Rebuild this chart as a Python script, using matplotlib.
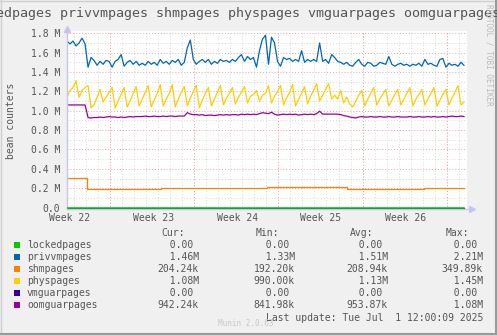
import numpy as np
import matplotlib
matplotlib.use("Agg")
import matplotlib.pyplot as plt
from matplotlib.patches import Rectangle
from matplotlib.lines import Line2D
from matplotlib.ticker import MultipleLocator, FuncFormatter

plt.rcParams["font.family"] = ["DejaVu Sans Mono"]

# ---- data (millions of pages), one sample every 6 hours ----
privvmpages = [
    1.72, 1.69, 1.72, 1.67, 1.70, 1.75, 1.69, 1.45, 1.55, 1.52,
    1.47, 1.51, 1.48, 1.52, 1.51, 1.45, 1.51, 1.53, 1.58, 1.46,
    1.50, 1.52, 1.48, 1.51, 1.47, 1.49, 1.47, 1.51, 1.48, 1.50,
    1.47, 1.53, 1.49, 1.51, 1.48, 1.52, 1.50, 1.53, 1.47, 1.50,
    1.65, 1.73, 1.53, 1.48, 1.51, 1.53, 1.50, 1.53, 1.48, 1.51,
    1.49, 1.53, 1.51, 1.52, 1.50, 1.53, 1.51, 1.55, 1.58, 1.51,
    1.56, 1.53, 1.55, 1.45, 1.62, 1.74, 1.78, 1.48, 1.76, 1.70,
    1.51, 1.46, 1.55, 1.53, 1.54, 1.51, 1.53, 1.51, 1.62, 1.50,
    1.53, 1.51, 1.53, 1.51, 1.70, 1.51, 1.53, 1.49, 1.58, 1.55,
    1.51, 1.50, 1.48, 1.50, 1.47, 1.46, 1.50, 1.53, 1.48, 1.46,
    1.50, 1.49, 1.46, 1.47, 1.50, 1.49, 1.48, 1.56, 1.48, 1.46,
    1.48, 1.49, 1.47, 1.48, 1.46, 1.48, 1.47, 1.49, 1.46, 1.53,
    1.48, 1.49, 1.47, 1.46, 1.53, 1.54, 1.45, 1.49, 1.47, 1.48,
    1.46, 1.50, 1.47,
]
physpages = [
    1.14, 1.21, 1.24, 1.31, 1.14, 1.21, 1.24, 1.26, 1.03, 1.06,
    1.14, 1.22, 1.09, 1.14, 1.19, 1.24, 1.03, 1.10, 1.17, 1.24,
    1.04, 1.10, 1.18, 1.25, 1.05, 1.12, 1.19, 1.26, 1.04, 1.11,
    1.18, 1.27, 1.05, 1.12, 1.18, 1.27, 1.04, 1.12, 1.19, 1.25,
    1.05, 1.13, 1.20, 1.26, 1.03, 1.11, 1.18, 1.24, 1.05, 1.12,
    1.19, 1.26, 1.06, 1.13, 1.18, 1.24, 1.07, 1.14, 1.19, 1.25,
    1.08, 1.15, 1.17, 1.21, 1.10, 1.16, 1.18, 1.26, 1.08, 1.15,
    1.20, 1.26, 1.06, 1.13, 1.19, 1.27, 1.05, 1.12, 1.18, 1.25,
    1.07, 1.15, 1.21, 1.28, 1.10, 1.16, 1.22, 1.28, 1.12, 1.16,
    1.12, 1.21, 1.08, 1.14, 1.07, 1.04, 1.10, 1.16, 1.21, 1.05,
    1.12, 1.18, 1.24, 1.06, 1.12, 1.17, 1.22, 1.05, 1.11, 1.17,
    1.22, 1.06, 1.12, 1.18, 1.24, 1.05, 1.12, 1.17, 1.22, 1.06,
    1.12, 1.18, 1.24, 1.05, 1.11, 1.17, 1.22, 1.06, 1.13, 1.19,
    1.26, 1.06, 1.09,
]
oomguarpages = [
    1.06, 1.06, 1.06, 1.06, 1.06, 1.06, 1.06, 0.93, 0.925, 0.93,
    0.93, 0.935, 0.93, 0.935, 0.94, 0.935, 0.935, 0.93, 0.935, 0.93,
    0.935, 0.94, 0.935, 0.94, 0.94, 0.94, 0.945, 0.94, 0.94, 0.945,
    0.94, 0.94, 0.945, 0.94, 0.945, 0.945, 0.94, 0.945, 0.945, 0.945,
    0.98, 0.965, 0.96, 0.96, 0.955, 0.96, 0.95, 0.955, 0.955, 0.95,
    0.955, 0.96, 0.955, 0.96, 0.955, 0.96, 0.96, 0.955, 0.965, 0.96,
    0.965, 0.96, 0.965, 0.96, 0.97, 0.98, 0.975, 0.97, 0.985, 0.965,
    0.955, 0.96, 0.965, 0.96, 0.965, 0.96, 0.965, 0.955, 0.96, 0.965,
    0.96, 0.965, 0.96, 0.97, 0.995, 0.965, 0.965, 0.965, 0.965, 0.965,
    0.965, 0.96, 0.95, 0.945, 0.935, 0.93, 0.925, 0.935, 0.94, 0.935,
    0.935, 0.94, 0.935, 0.935, 0.94, 0.935, 0.935, 0.94, 0.935, 0.935,
    0.94, 0.935, 0.935, 0.935, 0.94, 0.935, 0.935, 0.94, 0.935, 0.935,
    0.94, 0.935, 0.94, 0.935, 0.935, 0.94, 0.935, 0.94, 0.945, 0.94,
    0.94, 0.945, 0.94,
]
# shmpages is a step series: day where each level starts, and the level
shm_days = [0.0, 1.66, 7.8, 16.6, 23.3, 29.7, 33.0]
shm_vals = [0.31, 0.195, 0.205, 0.213, 0.196, 0.204, 0.204]
zero_days = [0.0, 33.0]
lockedpages = [0.0, 0.0]
vmguarpages = [0.0, 0.0]

week_labels = ["Week 22", "Week 23", "Week 24", "Week 25", "Week 26"]
week_label_days = [0.22, 7.22, 14.15, 21.1, 28.15]
week_line_days = [3.57, 10.57, 17.57, 24.57, 31.57]

names = ["lockedpages", "privvmpages", "shmpages", "physpages", "vmguarpages", "oomguarpages"]
colors = ["#00CC00", "#0066B3", "#FF8000", "#FFCC00", "#330099", "#990099"]
cur = ["0.00 ", "1.46M", "204.24k", "1.08M", "0.00 ", "942.24k"]
mins = ["0.00 ", "1.33M", "192.20k", "990.00k", "0.00 ", "841.98k"]
avgs = ["0.00 ", "1.51M", "208.94k", "1.13M", "0.00 ", "953.87k"]
maxs = ["0.00 ", "2.21M", "349.89k", "1.45M", "0.00 ", "1.08M"]

# ---- figure ----
W, H = 497, 335
TXT = "#555555"
fig = plt.figure(figsize=(W / 100, H / 100), dpi=100, facecolor="#F0F0F0")
ax = fig.add_axes([67 / W, 1 - 209 / H, 400 / W, (209 - 30.5) / H])
ax.set_facecolor("white")

step = 0.25
days = np.arange(len(privvmpages)) * step

ax.set_xlim(0, 33.25)
ax.set_ylim(-0.015, 1.829)

# grid
ax.yaxis.set_major_locator(MultipleLocator(0.2))
ax.yaxis.set_minor_locator(MultipleLocator(0.1))
ax.yaxis.grid(True, which="minor", color="#D8D8D8", lw=0.7, ls=(0, (1, 2)), zorder=0)
ax.yaxis.grid(True, which="major", color="#EBA4A4", lw=0.7, ls=(0, (1, 2)), zorder=0)
for d in np.arange(0.57, 33.25, 1.0):
    ax.axvline(d, color="#D8D8D8", lw=0.7, ls=(0, (1, 2)), zorder=0)
for d in week_line_days:
    ax.axvline(d, color="#EBA4A4", lw=0.7, ls=(0, (1, 2)), zorder=0)
ax.set_axisbelow(True)

ax.yaxis.set_major_formatter(FuncFormatter(lambda v, p: "0.0" if abs(v) < 1e-9 else "%.1f M" % v))
ax.tick_params(axis="y", which="both", length=0, pad=5, labelsize=7, labelcolor=TXT)
ax.set_xticks(week_label_days, week_labels)
ax.tick_params(axis="x", length=0, pad=3, labelsize=7, labelcolor=TXT)

# series
lw = 0.9
ax.plot(zero_days, vmguarpages, color=colors[4], lw=lw, zorder=2)
ax.plot(days, oomguarpages, color=colors[5], lw=lw, zorder=2)
ax.plot(days, physpages, color=colors[3], lw=lw, zorder=2)
ax.plot(shm_days, shm_vals, color=colors[2], lw=lw, drawstyle="steps-post", zorder=2)
ax.plot(days, privvmpages, color=colors[1], lw=lw, zorder=2)
ax.plot(zero_days, lockedpages, color=colors[0], lw=1.1, zorder=3)

for s in ["top", "right"]:
    ax.spines[s].set_visible(False)
for s in ["left", "bottom"]:
    ax.spines[s].set_color("#C4C4F0")
    ax.spines[s].set_linewidth(1.0)
ax.plot([0], [1.01], marker="^", ms=4, color="#C4C4F0", transform=ax.transAxes, clip_on=False)
ax.plot([1.012], [0], marker=">", ms=4, color="#C4C4F0", transform=ax.transAxes, clip_on=False)

# title and side texts
fig.text(-36 / W, 1 - 13 / H, " ".join(names), ha="left", va="center", fontsize=9.6, color=TXT)
fig.text(11 / W, 1 - 121 / H, "bean counters", rotation=90, ha="center", va="center",
         fontsize=7, color=TXT)
fig.text(489 / W, 1 - 4 / H, "RRDTOOL / TOBI OETIKER", rotation=270, ha="center", va="top",
         fontsize=5.5, color="#BBBBBB")

# legend table
def fy(y):
    return 1 - y / H

for x, h in zip([185, 279, 373, 469], ["Cur:", "Min:", "Avg:", "Max:"]):
    fig.text(x / W, fy(233), h, ha="right", va="center", fontsize=7, color=TXT)

col_start = [157.7, 253.7, 346.7, 441.7]
for i, name in enumerate(names):
    y = 245 + 12 * i
    fig.patches.append(Rectangle((14 / W, fy(y + 3)), 6 / W, 6 / H, transform=fig.transFigure,
                                 facecolor=colors[i], edgecolor="none"))
    fig.text(27 / W, fy(y), name, ha="left", va="center", fontsize=7, color=TXT)
    for x0, col in zip(col_start, [cur, mins, avgs, maxs]):
        fig.text(x0 / W, fy(y), col[i].rjust(7), ha="left", va="center", fontsize=7, color=TXT)

fig.text(483 / W, fy(318), "Last update: Tue Jul  1 12:00:09 2025", ha="right", va="center",
         fontsize=7, color=TXT)
fig.text(218 / W, fy(324), "Munin 2.0.63", ha="left", va="center", fontsize=5.5, color="#C8C8C8")

# image border
fig.add_artist(Line2D([0.5 / W, 0.5 / W], [0, 1], color="#CFCFCF", lw=1.0, transform=fig.transFigure))
fig.add_artist(Line2D([0, 1], [1 - 0.5 / H, 1 - 0.5 / H], color="#CFCFCF", lw=1.0, transform=fig.transFigure))
fig.add_artist(Line2D([1 - 1 / W, 1 - 1 / W], [0, 1], color="#9A9A9A", lw=1.5, transform=fig.transFigure))
fig.add_artist(Line2D([0, 1], [1 / H, 1 / H], color="#9A9A9A", lw=1.5, transform=fig.transFigure))

fig.savefig("out.png", dpi=100, facecolor=fig.get_facecolor())
